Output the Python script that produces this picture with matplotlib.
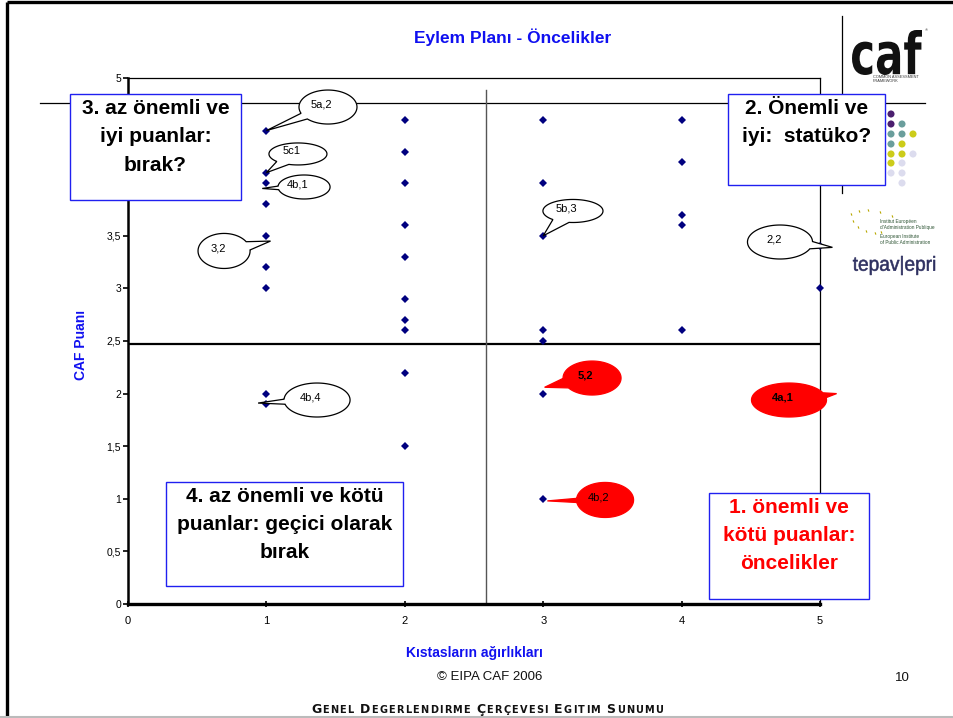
import matplotlib
matplotlib.use("Agg")
import matplotlib.pyplot as plt
import numpy as np
from matplotlib.patches import Rectangle, Polygon, PathPatch
from matplotlib.textpath import TextPath
from matplotlib.font_manager import FontProperties
from matplotlib.transforms import Affine2D
from matplotlib.ticker import FuncFormatter, MultipleLocator

plt.rcParams['font.family'] = ['Liberation Sans', 'DejaVu Sans']

W, H = 954, 718

# ---- data: criterion weight (x) vs CAF score (y) ----
weight_levels = [1, 2, 3, 4, 5]
scores_w1 = [4.5, 4.1, 4.0, 3.8, 3.5, 3.2, 3.0, 2.0, 1.9]
scores_w2 = [4.6, 4.3, 4.0, 3.6, 3.3, 2.9, 2.7, 2.6, 2.2, 1.5]
scores_w3 = [4.6, 4.0, 3.5, 2.6, 2.5, 2.0, 1.0]
scores_w4 = [4.6, 4.2, 3.7, 3.6, 2.6]
scores_w5 = [3.4, 3.0]
scores_by_weight = [scores_w1, scores_w2, scores_w3, scores_w4, scores_w5]

# quadrant dividers
split_score = 2.47
split_weight = 2.59

# callout labels and the point each one refers to
callout_labels = ["5a,2", "5c1", "4b,1", "3,2", "5b,3", "4b,4", "2,2", "5,2", "4a,1", "4b,2"]
callout_targets = [(1.0, 4.5), (1.0, 4.1), (0.97, 3.95), (1.03, 3.45), (3.0, 3.5),
                   (0.94, 1.91), (5.09, 3.39), (3.01, 2.06), (5.12, 2.0), (3.03, 0.98)]
callout_red = [False, False, False, False, False, False, False, True, True, True]
callout_bold = [False, False, False, False, False, False, False, True, True, False]

quadrant_texts = ["3. az önemli ve\niyi puanlar:\nbırak?",
                  "2. Önemli ve\niyi:  statüko?",
                  "4. az önemli ve kötü\npuanlar: geçici olarak\nbırak",
                  "1. önemli ve\nkötü puanlar:\nöncelikler"]

title = "Eylem Planı - Öncelikler"
x_label = "Kıstasların ağırlıkları"
y_label = "CAF Puanı"

# ---- layout ----
callout_centers = [(1.445, 4.724), (1.228, 4.278), (1.272, 3.964), (0.694, 3.356), (3.215, 3.736),
                   (1.366, 1.939), (4.711, 3.441), (3.353, 2.148), (4.776, 1.939), (3.447, 0.989)]
callout_sizes = [(0.419, 0.323), (0.419, 0.209), (0.376, 0.228), (0.376, 0.333), (0.434, 0.219),
                 (0.477, 0.323), (0.470, 0.323), (0.419, 0.323), (0.542, 0.323), (0.412, 0.333)]
callout_half = [0.2, 0.25, 0.15, 0.25, 0.3, 0.15, 0.22, 0.3, 0.15, 0.12]
box_extents = [(-0.419, 0.816, 3.844, 4.852), (4.335, 5.470, 3.987, 4.852),
               (0.275, 1.987, 0.171, 1.160), (4.198, 5.354, 0.048, 1.057)]
box_text_top = [(0.199, 4.80), (4.906, 4.80), (1.131, 1.115), (4.776, 1.01)]
box_text_color = ['black', 'black', 'black', '#FF0000']

BLUE = '#1010F0'
NAVY = '#00007F'

fig = plt.figure(figsize=(W / 100, H / 100), dpi=100)
fig.patch.set_facecolor('white')

# slide-level layer in pixel units
deco = fig.add_axes([0, 0, 1, 1], zorder=0)
deco.set_xlim(0, W)
deco.set_ylim(H, 0)
deco.axis('off')

ax = fig.add_axes([128 / W, (H - 604) / H, 692 / W, 526 / H], zorder=1)
ax.patch.set_alpha(0)
ax.set_xlim(0, 5)
ax.set_ylim(0, 5)

# scatter points
xs, ys = [], []
for w, sc in zip(weight_levels, scores_by_weight):
    xs += [w] * len(sc)
    ys += sc
ax.plot(xs, ys, linestyle='none', marker='D', markersize=4.3, color=NAVY,
        markeredgewidth=0, zorder=3, clip_on=False)

# quadrant dividers
ax.plot([0, 5], [split_score, split_score], color='black', lw=1.6, zorder=2)
ax.plot([split_weight, split_weight], [0, 4.89], color='#555555', lw=1.0, zorder=2)

# spines / ticks
for s in ['top', 'right']:
    ax.spines[s].set_linewidth(0.9)
ax.spines['left'].set_linewidth(1.8)
ax.spines['bottom'].set_linewidth(2.4)
ax.xaxis.set_major_locator(MultipleLocator(1))
ax.yaxis.set_major_locator(MultipleLocator(0.5))

# the top-left quadrant box sits over the axis labels in its span
covered_lo, covered_hi = box_extents[0][2], box_extents[0][3]


def score_fmt(v, pos):
    if covered_lo < v < covered_hi:
        return ""
    return f"{v:g}".replace('.', ',')


ax.yaxis.set_major_formatter(FuncFormatter(score_fmt))
ax.tick_params(axis='y', direction='out', length=3.5, width=1.2, labelsize=7.5, pad=1.5)
ax.tick_params(axis='x', direction='inout', length=5, width=1.2, labelsize=8, pad=6)

ax.set_xlabel(x_label, color=BLUE, fontsize=10, fontweight='bold')
ax.xaxis.set_label_coords(0.5, -0.08)
ax.set_ylabel(y_label, color=BLUE, fontsize=10, fontweight='bold')
ax.yaxis.set_label_coords(-0.058, 0.492)


def speech_bubble(center, size, tip, face, edge, half=0.22, z=5):
    cx, cy = center
    a, b = size[0] / 2, size[1] / 2
    tx, ty = tip
    theta = np.arctan2((ty - cy) / b, (tx - cx) / a)
    t = np.linspace(theta + half, theta + 2 * np.pi - half, 160)
    pts = np.column_stack([cx + a * np.cos(t), cy + b * np.sin(t)])
    pts = np.vstack([pts, [tx, ty]])
    ax.add_patch(Polygon(pts, closed=True, facecolor=face, edgecolor=edge,
                         lw=0.9, zorder=z, clip_on=False, joinstyle='miter'))


for lab, tgt, c, sz, red, bold, hf in zip(callout_labels, callout_targets, callout_centers,
                                          callout_sizes, callout_red, callout_bold, callout_half):
    if red:
        speech_bubble(c, sz, tgt, '#FF0000', '#FF0000', half=hf)
    else:
        speech_bubble(c, sz, tgt, 'white', 'black', half=hf)
    ax.text(c[0] - 0.045, c[1] + 0.025, lab, ha='center', va='center', fontsize=8,
            fontweight='bold' if bold else 'normal', color='black', zorder=6, clip_on=False)

for (x0, x1, y0, y1), txt, (tx, ty), col in zip(box_extents, quadrant_texts, box_text_top, box_text_color):
    ax.add_patch(Rectangle((x0, y0), x1 - x0, y1 - y0, facecolor='white', edgecolor='#2020F0',
                           lw=1.0, zorder=7, clip_on=False))
    ax.text(tx, ty, txt, ha='center', va='top', fontsize=15, fontweight='bold',
            color=col, linespacing=1.62, zorder=8, clip_on=False)

# ---- slide decoration ----
fig.text(513 / W, 1 - 37 / H, title, ha='center', va='center', fontsize=12.5,
         fontweight='bold', color=BLUE)

deco.plot([7, 7], [2, 716], color='black', lw=2.4, solid_capstyle='butt')
deco.plot([7, W], [2, 2], color='black', lw=2.4, solid_capstyle='butt')
deco.plot([0, W], [716.5, 716.5], color='#BBBBBB', lw=1.5)
deco.plot([40, 925], [103, 103], color='black', lw=0.9)
deco.plot([842, 842], [16, 193], color='black', lw=0.9)

# CAF logo
fp = FontProperties(family='DejaVu Sans', weight='bold')
tp = TextPath((0, 0), "caf", size=1, prop=fp)
bb = tp.get_extents()
X0, Y0, X1, Y1 = 852, 30, 922, 75
tr = Affine2D().translate(-bb.x0, -bb.y0).scale((X1 - X0) / bb.width, -(Y1 - Y0) / bb.height).translate(X0, Y1)
deco.add_patch(PathPatch(tr.transform_path(tp), facecolor='#111111', edgecolor='none'))
deco.text(873, 77.5, "COMMON ASSESSMENT", fontsize=2.8, color='#333333', va='center')
deco.text(873, 81.5, "FRAMEWORK", fontsize=2.8, color='#333333', va='center')
deco.text(925, 30, "®", fontsize=3, color='#333333', va='center')

# coloured dot grid
dot_cols = [891, 902, 913]
dot_rows = [114, 124, 134, 144, 154, 163, 173, 183]
purple, teal, yellow, lav = '#4B1F6F', '#6A9E9C', '#CCCC1A', '#DCDCEE'
dot_grid = [[purple], [purple, teal], [teal, teal, yellow], [teal, yellow],
            [yellow, yellow, lav], [yellow, lav], [lav, lav], [None, lav]]
for r, row in zip(dot_rows, dot_grid):
    for cx, colr in zip(dot_cols, row):
        if colr:
            deco.scatter([cx], [r], s=26, color=colr, edgecolors='none')

# EIPA mark: ring of small stars
star_x = [851, 859, 868, 880, 892, 853, 858, 866, 875, 881]
star_y = [214, 211, 210, 212, 216, 221, 227, 231, 233, 232]
deco.scatter(star_x, star_y, s=3, marker=(2, 0, 20), color='#B8A800', linewidths=0.8)
for yy, line in zip([222, 227.5, 236.5, 242],
                    ["Institut Européen", "d'Administration Publique",
                     "European Institute", "of Public Administration"]):
    deco.text(880, yy, line, fontsize=3.4, color='#2F5535', va='center')
tp2 = TextPath((0, 0), "tepav|epri", size=1, prop=FontProperties(family='Liberation Sans'))
bb2 = tp2.get_extents()
X0, Y0, X1, Y1 = 853, 256, 935, 275
tr2 = Affine2D().translate(-bb2.x0, -bb2.y0).scale((X1 - X0) / bb2.width, -(Y1 - Y0) / bb2.height).translate(X0, Y1)
deco.add_patch(PathPatch(tr2.transform_path(tp2), facecolor='#2E3060', edgecolor='#2E3060', lw=0.4))

# footer
deco.text(490, 677, "© EIPA CAF 2006", fontsize=9.5, ha='center', va='center', color='#111111')
deco.text(902, 678, "10", fontsize=9.5, ha='center', va='center', color='#111111')

renderer = fig.canvas.get_renderer()
words = ["Genel", "Degerlendirme", "Çerçevesi", "Egitim", "Sunumu"]
pieces = []
for wi, wd in enumerate(words):
    pieces.append((wd[0].upper(), 9.0))
    for ch in wd[1:]:
        pieces.append((ch.upper(), 7.0))
    if wi < len(words) - 1:
        pieces.append((' ', 7.0))
objs, widths = [], []
for ch, sz in pieces:
    t = deco.text(0, 713, ch, fontsize=sz, fontweight='bold', va='baseline', ha='left',
                  color='#111111', family='DejaVu Sans')
    objs.append(t)
    widths.append(4.0 if ch == ' ' else t.get_window_extent(renderer).width)
start, end = 311, 663
track = (end - start - sum(widths)) / (len(pieces) - 1)
cur = start
for t, wdt in zip(objs, widths):
    t.set_position((cur, 713))
    cur += wdt + track

fig.savefig("out.png", dpi=100)
